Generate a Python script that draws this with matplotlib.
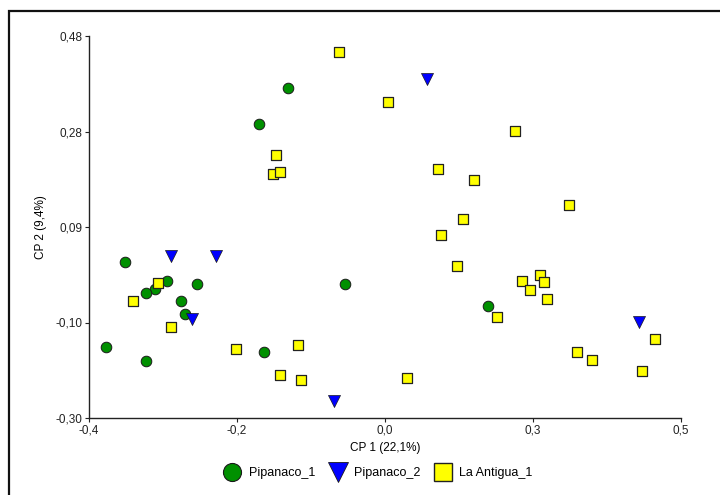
import matplotlib
matplotlib.use("Agg")
import matplotlib.pyplot as plt
from matplotlib.patches import Rectangle
from matplotlib.lines import Line2D

plt.rcParams['font.family'] = ['Liberation Sans', 'DejaVu Sans']

# Pipanaco_1 (green circles)
p1_x = [-0.097, -0.141, -0.345, -0.281, -0.299, -0.314, -0.236, -0.260, -0.254,
        -0.374, -0.313, -0.134, -0.011, 0.206]
p1_y = [0.374, 0.300, 0.019, -0.020, -0.036, -0.045, -0.027, -0.061, -0.088,
        -0.155, -0.183, -0.166, -0.027, -0.071]

# Pipanaco_2 (blue triangles)
p2_x = [0.114, -0.276, -0.207, -0.243, -0.027, 0.436]
p2_y = [0.392, 0.031, 0.031, -0.098, -0.266, -0.104]

# La Antigua_1 (yellow squares)
la_x = [-0.020, 0.054, 0.248, -0.115, -0.120, -0.109, 0.131, 0.186, 0.329, 0.169,
        0.135, 0.159, 0.286, 0.259, 0.292, 0.270, 0.297, 0.220, -0.295, -0.333,
        -0.276, -0.177, -0.083, -0.109, -0.078, 0.083, 0.460, 0.342, 0.365, 0.441]
la_y = [0.447, 0.346, 0.287, 0.238, 0.198, 0.202, 0.209, 0.185, 0.135, 0.106,
        0.073, 0.011, -0.008, -0.021, -0.022, -0.039, -0.057, -0.093, -0.025, -0.061,
        -0.114, -0.160, -0.151, -0.213, -0.223, -0.219, -0.138, -0.166, -0.181, -0.204]

x_ticks = [-0.4, -0.175, 0.05, 0.275, 0.5]
x_tick_labels = ['-0,4', '-0,2', '0,0', '0,3', '0,5']
y_ticks = [-0.30, -0.105, 0.09, 0.285, 0.48]
y_tick_labels = ['-0,30', '-0,10', '0,09', '0,28', '0,48']

series_names = ['Pipanaco_1', 'Pipanaco_2', 'La Antigua_1']
green = '#009000'
blue = '#0000FF'
yellow = '#FFFF00'

fig = plt.figure(figsize=(7.2, 4.95), dpi=100)
ax = fig.add_axes([89/720, 1 - 418/495, (681 - 89)/720, (418 - 36)/495])

ax.scatter(p1_x, p1_y, s=58, marker='o', facecolor=green, edgecolor='#1a1a1a',
           linewidths=0.7, zorder=3)
ax.scatter(p2_x, p2_y, s=75, marker='v', facecolor=blue, edgecolor='#1a1a1a',
           linewidths=0.5, zorder=3)
ax.scatter(la_x, la_y, s=60, marker='s', facecolor=yellow, edgecolor='#222222',
           linewidths=0.9, zorder=3)

ax.set_xlim(-0.4, 0.5)
ax.set_ylim(-0.30, 0.48)
ax.set_xticks(x_ticks)
ax.set_xticklabels(x_tick_labels)
ax.set_yticks(y_ticks)
ax.set_yticklabels(y_tick_labels)
for s in ['top', 'right']:
    ax.spines[s].set_visible(False)
for s in ['left', 'bottom']:
    ax.spines[s].set_linewidth(1.0)
    ax.spines[s].set_color('#222222')
ax.tick_params(axis='both', direction='out', length=3, width=0.8, labelsize=8.5,
               pad=1.5, colors='#222222')
ax.set_xlabel('CP 1 (22,1%)', fontsize=8.5, labelpad=4)
ax.set_ylabel('CP 2 (9,4%)', fontsize=8.5, labelpad=6)

handles = [
    Line2D([], [], linestyle='none', marker='o', markersize=13, markerfacecolor=green,
           markeredgecolor='#1a1a1a', markeredgewidth=0.8),
    Line2D([], [], linestyle='none', marker='v', markersize=15, markerfacecolor=blue,
           markeredgecolor='#1a1a1a', markeredgewidth=0.6),
    Line2D([], [], linestyle='none', marker='s', markersize=13, markerfacecolor=yellow,
           markeredgecolor='#222222', markeredgewidth=1.0),
]
fig.legend(handles, series_names, loc='center', bbox_to_anchor=(378/720, 1 - 473/495),
           ncol=3, frameon=False, fontsize=9, handletextpad=0.6, columnspacing=1.1,
           handlelength=1.4)

fig.patches.append(Rectangle((9/720, -0.1), 1.2, 1 - 11/495 + 0.1,
                             transform=fig.transFigure, fill=False,
                             edgecolor='#111111', linewidth=1.6))

fig.savefig('out.png', dpi=100)
